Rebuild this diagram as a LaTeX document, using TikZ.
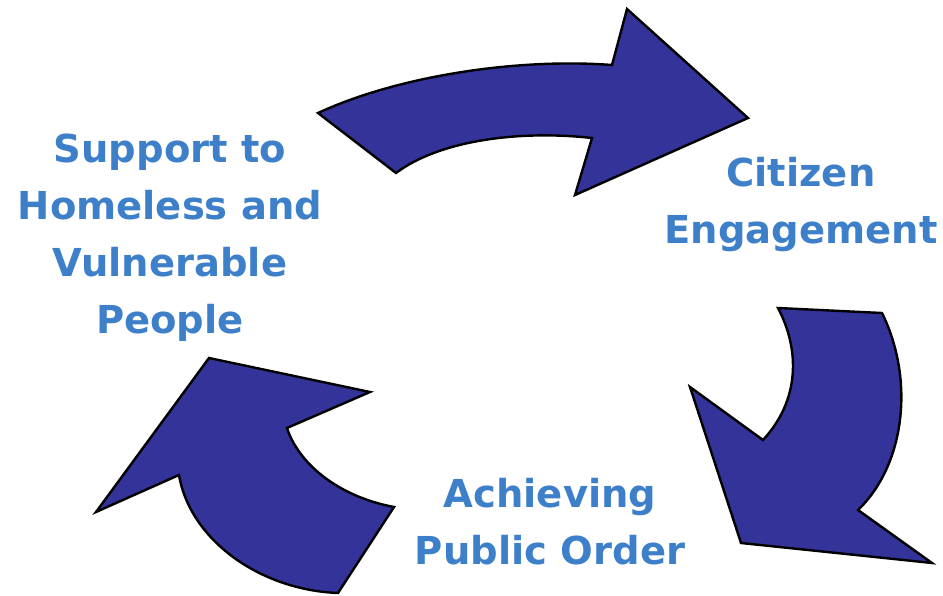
\documentclass[tikz,border=0pt]{standalone}
\usepackage{fontspec}
\setmainfont{DejaVu Sans}
\usepackage{tikz}
\usetikzlibrary{positioning}
\usepackage{xcolor}
\definecolor{arrowblue}{RGB}{51,51,153}
\definecolor{textblue}{RGB}{61,127,201}

\begin{document}
\begin{tikzpicture}[x=1pt,y=-1pt,
    bigarrow/.style={fill=arrowblue, draw=black, line width=2.4pt,
        line join=miter},
    cyclelabel/.style={text=textblue, align=center, inner sep=0pt,
        font=\fontsize{38.5}{57}\selectfont\bfseries}]
    \useasboundingbox (0,0) rectangle (943,596);

    % top arrow
    \draw[bigarrow] (318,113) .. controls (400,75) and (520,58) .. (612,65)
        -- (627,9) -- (748,118) -- (575,195) -- (592,138)
        .. controls (520,130) and (440,140) .. (396,173) -- cycle;
    % right arrow
    \draw[bigarrow] (882,313) -- (778,308)
        .. controls (800,350) and (800,400) .. (763,440)
        -- (690,387) -- (741,543) -- (932,563) -- (858,510)
        .. controls (905,465) and (915,380) .. (882,313) -- cycle;
    % left arrow
    \draw[bigarrow] (338,593) -- (394,507)
        .. controls (336,496) and (298,462) .. (287,428)
        -- (370,392) -- (209,358) -- (96,512) -- (179,475)
        .. controls (190,540) and (260,590) .. (338,593) -- cycle;

    \node[cyclelabel] (support) at (170,238) {Support to\\Homeless and\\Vulnerable\\People};
    \node[cyclelabel] (citizen) at (801,205) {Citizen\\Engagement};
    \node[cyclelabel] (order) at (550,522) {Achieving\\Public Order};

\end{tikzpicture}
\end{document}
